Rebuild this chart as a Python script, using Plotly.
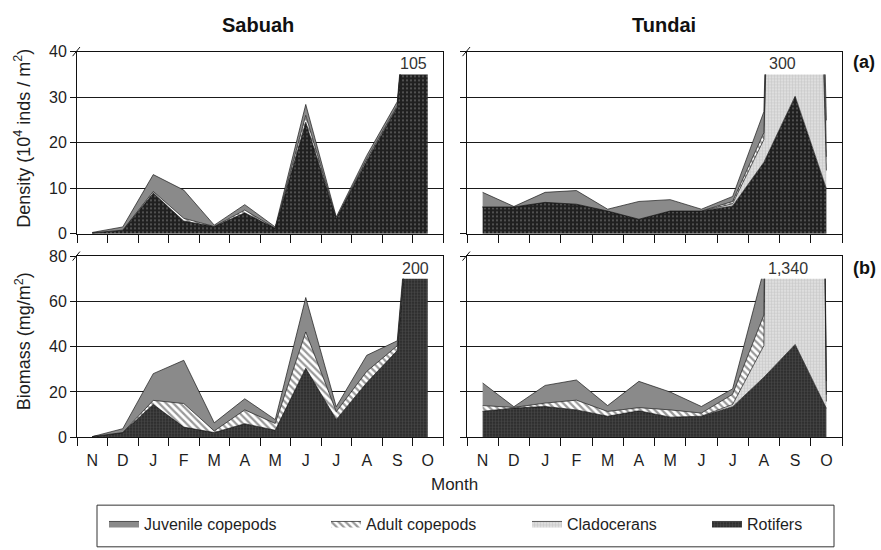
import plotly.graph_objects as go

# ---- data -------------------------------------------------------------
months = ["N", "D", "J", "F", "M", "A", "M", "J", "J", "A", "S", "O"]
month_idx = list(range(len(months)))

# Density (10^4 inds / m2), Sabuah
sab_den_rotifers = [0.2, 0.8, 8.9, 2.8, 1.6, 4.6, 1.2, 24.5, 3.3, 16.0, 27.8, 103.5]
sab_den_cladocerans = [0, 0, 0, 0, 0, 0, 0, 0, 0, 0, 0, 0]
sab_den_adult = [0, 0, 0.4, 0.6, 0, 0.6, 0, 1.5, 0, 0.4, 0.3, 0.5]
sab_den_juvenile = [0.1, 0.7, 3.7, 6.2, 0.3, 1.2, 0.3, 2.4, 0.4, 0.8, 0.9, 1.0]

# Density (10^4 inds / m2), Tundai
tun_den_rotifers = [5.9, 5.9, 6.9, 6.5, 5.0, 3.2, 5.0, 5.0, 6.1, 15.7, 30.2, 9.9]
tun_den_cladocerans = [0, 0, 0, 0, 0, 0, 0, 0, 0.5, 5.0, 239.8, 4.0]
tun_den_adult = [0, 0, 0, 0, 0, 0, 0, 0, 0.5, 1.5, 10.0, 3.0]
tun_den_juvenile = [3.2, 0.1, 2.2, 3.0, 0.4, 3.9, 2.5, 0.4, 1.1, 4.6, 20.0, 8.0]

# Biomass (mg/m2), Sabuah
sab_bio_rotifers = [0.3, 2.1, 14.5, 4.5, 2.1, 6.0, 3.1, 30.5, 7.8, 24.1, 38.3, 195.0]
sab_bio_cladocerans = [0, 0, 0, 0, 0, 0, 0, 0, 0, 0, 0, 0]
sab_bio_adult = [0, 0, 1.8, 10.4, 0.7, 6.1, 3.0, 16.0, 3.5, 5.0, 2.1, 2.0]
sab_bio_juvenile = [0, 1.7, 11.8, 19.1, 3.6, 4.9, 1.7, 15.2, 2.2, 7.1, 2.2, 3.0]

# Biomass (mg/m2), Tundai
tun_bio_rotifers = [11.5, 12.9, 13.6, 12.1, 9.3, 11.7, 8.9, 9.3, 13.5, 26.5, 41.0, 12.8]
tun_bio_cladocerans = [0, 0, 0, 0, 0, 0, 0, 0, 1.0, 14.0, 1229.0, 3.0]
tun_bio_adult = [2.5, 0.3, 1.5, 4.3, 2.1, 1.4, 3.2, 1.4, 4.5, 13.5, 30.0, 3.0]
tun_bio_juvenile = [10.0, 0.3, 7.8, 8.9, 2.6, 11.6, 7.9, 2.9, 2.4, 20.0, 40.0, 6.0]

# Off-scale totals written above the clipped peaks: (panel, x position, text)
peak_labels = [
    (1, 10.53, "105"),
    (2, 9.61, "300"),
    (3, 10.61, "200"),
    (4, 9.77, "1,340"),
]

series_names = ["Rotifers", "Cladocerans", "Adult copepods", "Juvenile copepods"]

# ---- layout geometry (pixels of an 881 x 550 page) ---------------------
W, H = 881, 550
FONT = "Liberation Sans, Arial, Helvetica, sans-serif"
INK = "#1e1e1e"


def fx(p):
    return p / W


def fy(p):
    return 1 - p / H


# panel: (x-left, x-right, y-top, y-bottom, axis max, clip level, tick step, bottom row, left column)
panels = {
    1: (77, 443, 45, 233, 40, 35, 10, False, True),
    2: (467, 842, 45, 233, 40, 35, 10, False, False),
    3: (77, 443, 256, 443, 80, 70, 20, True, True),
    4: (467, 842, 256, 443, 80, 70, 20, True, False),
}

panel_data = {
    1: [sab_den_rotifers, sab_den_cladocerans, sab_den_adult, sab_den_juvenile],
    2: [tun_den_rotifers, tun_den_cladocerans, tun_den_adult, tun_den_juvenile],
    3: [sab_bio_rotifers, sab_bio_cladocerans, sab_bio_adult, sab_bio_juvenile],
    4: [tun_bio_rotifers, tun_bio_cladocerans, tun_bio_adult, tun_bio_juvenile],
}

# one single-entry legend per group, placed by the left edge of its text
legend_slots = {
    "Juvenile copepods": ("legend", 145),
    "Adult copepods": ("legend2", 367),
    "Cladocerans": ("legend3", 568),
    "Rotifers": ("legend4", 748),
}


def fill_style(name, biomass):
    if name == "Rotifers":
        if biomass:
            pat = dict(shape="+", bgcolor="#2f2f2f", fgcolor="#6a6a6a", size=3, solidity=0.3)
        else:
            pat = dict(shape=".", bgcolor="#202020", fgcolor="#a0a0a0", size=4, solidity=0.2)
        return dict(fillcolor="#2a2a2a", fillpattern=pat)
    if name == "Cladocerans":
        return dict(fillcolor="#d8d8d8",
                    fillpattern=dict(shape="+", bgcolor="#dedede", fgcolor="#a9a9a9", size=3, solidity=0.3))
    if name == "Adult copepods":
        return dict(fillcolor="#ffffff",
                    fillpattern=dict(shape="\\", bgcolor="#ffffff", fgcolor="#333333", size=5, solidity=0.45))
    return dict(fillcolor="#8a8a8a")


fig = go.Figure()

for p, (x0, x1, top, bottom, ymax, cap, step, bottom_row, left_col) in panels.items():
    xa = "x" if p == 1 else f"x{p}"
    data_y = f"y{p + 4}"
    biomass = p >= 3
    for name, vals in zip(series_names, panel_data[p]):
        fig.add_trace(go.Scatter(
            x=month_idx, y=vals, name=name,
            xaxis=xa, yaxis=data_y,
            stackgroup=f"panel{p}", mode="lines",
            line=dict(color="#1a1a1a", width=0.7),
            showlegend=(p == 4), legend=legend_slots[name][0],
            hoverinfo="skip",
            **fill_style(name, biomass),
        ))

    xkey = "xaxis" if p == 1 else f"xaxis{p}"
    ykey = "yaxis" if p == 1 else f"yaxis{p}"
    yanchor = "y" if p == 1 else f"y{p}"

    fig.layout[xkey] = dict(
        domain=[fx(x0), fx(x1)], anchor=yanchor, range=[-0.5, 11.5],
        tickmode="array", tickvals=month_idx, ticktext=months,
        showticklabels=bottom_row,
        ticks="outside", ticklen=8, tickcolor="rgba(0,0,0,0)",
        minor=dict(tickmode="array", tickvals=[i - 0.5 for i in range(len(months) + 1)],
                   ticks="outside", ticklen=8, tickwidth=1, tickcolor="#111111"),
        showline=True, linecolor="#111111", linewidth=1, mirror=True,
        showgrid=False, zeroline=False, fixedrange=True,
        tickfont=dict(family=FONT, size=16, color=INK),
    )
    fig.layout[ykey] = dict(
        domain=[fy(bottom), fy(top)], anchor=xa, range=[0, ymax],
        tickmode="array", tickvals=list(range(0, ymax + 1, step)),
        showticklabels=left_col,
        ticks="outside", ticklen=6, tickwidth=1, tickcolor="#111111",
        showgrid=True, gridcolor="#1a1a1a", gridwidth=1,
        showline=True, linecolor="#111111", linewidth=1, mirror=True,
        zeroline=False, fixedrange=True,
        tickfont=dict(family=FONT, size=16, color=INK),
    )
    # data axis: same scale, but its domain stops at the clip level
    fig.layout[f"yaxis{p + 4}"] = dict(
        domain=[fy(bottom), fy(bottom) + (fy(top) - fy(bottom)) * cap / ymax],
        anchor=xa, range=[0, cap], visible=False, fixedrange=True,
    )

    # axis-break mark at the top of each y axis
    fig.add_shape(type="line", xref=f"{xa} domain", yref=f"{yanchor} domain",
                  x0=-0.012, y0=0.975, x1=0.008, y1=1.025,
                  line=dict(color="#111111", width=1))

for p, xpos, text in peak_labels:
    xa = "x" if p == 1 else f"x{p}"
    ya = "y" if p == 1 else f"y{p}"
    ymax = panels[p][4]
    fig.add_annotation(x=xpos, y=ymax * 0.933, xref=xa, yref=ya, text=text,
                       xanchor="center", yanchor="middle", showarrow=False,
                       font=dict(family=FONT, size=16, color="#333333"))


def label(x, y, text, size, angle=0, color=INK):
    fig.add_annotation(x=fx(x), y=fy(y), xref="paper", yref="paper", text=text,
                       xanchor="center", yanchor="middle", textangle=angle,
                       showarrow=False, font=dict(family=FONT, size=size, color=color))


label(258, 18, "<b>Sabuah</b>", 20, color="#111111")
label(664, 18, "<b>Tundai</b>", 20, color="#111111")
label(864, 56, "<b>(a)</b>", 18, color="#111111")
label(864, 268, "<b>(b)</b>", 18, color="#111111")
label(23, 135, "Density (10<sup>4</sup> inds / m<sup>2</sup>)", 18, angle=-90)
label(23, 344, "Biomass (mg/m<sup>2</sup>)", 18, angle=-90)
label(455, 492, "Month", 17)

# frame round the legend row
fig.add_shape(type="rect", xref="paper", yref="paper",
              x0=fx(97), x1=fx(834), y0=fy(556), y1=fy(513),
              line=dict(color="#333333", width=1), fillcolor="rgba(0,0,0,0)")

legend_common = dict(orientation="h", xanchor="left", yanchor="middle", y=fy(532),
                     borderwidth=0, bgcolor="rgba(0,0,0,0)",
                     font=dict(family=FONT, size=16, color=INK))
layout_legends = {}
for name, (key, text_x) in legend_slots.items():
    layout_legends[key] = dict(legend_common, x=fx(text_x - 41))

fig.update_layout(
    width=W, height=H, autosize=False,
    margin=dict(l=0, r=0, t=0, b=0),
    paper_bgcolor="white", plot_bgcolor="rgba(0,0,0,0)",
    font=dict(family=FONT, size=16, color=INK),
    **layout_legends,
)

fig.write_html("out.html")
